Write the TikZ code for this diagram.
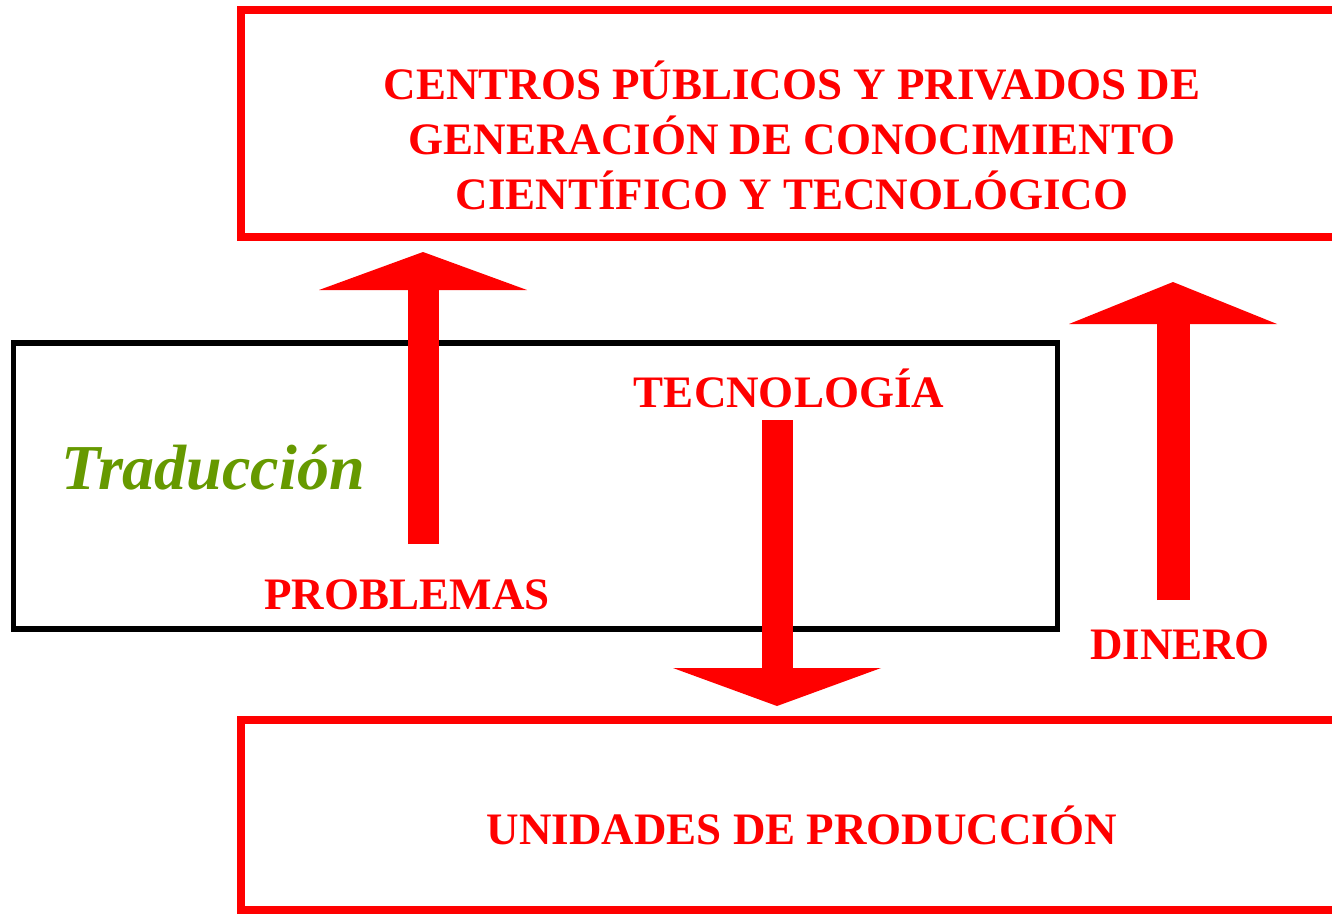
\documentclass[tikz,border=0pt]{standalone}
\usepackage{fontspec}
\setmainfont{Liberation Serif}
\usepackage{tikz}
\usetikzlibrary{arrows.meta}
\definecolor{tradgreen}{RGB}{102,153,0}

\begin{document}
\begin{tikzpicture}[x=1pt,y=-1pt,
  redbox/.style={draw=red,line width=8pt,inner sep=0pt},
  redtext/.style={text=red,font=\bfseries\fontsize{45}{55}\selectfont,align=center,inner sep=0pt},
  flow/.style={red,line width=31pt,-{Triangle[width=208pt,length=38pt,line width=0pt]}}]
  \clip (0,0) rectangle (1332,913);
  \node[redbox,minimum width=1102pt,minimum height=227pt](centros) at (792,123) {};
  \node[redtext](centrostxt) at (792,135) {CENTROS PÚBLICOS Y PRIVADOS DE\\
    GENERACIÓN DE CONOCIMIENTO\\
    CIENTÍFICO Y TECNOLÓGICO};
  \node[redbox,minimum width=1102pt,minimum height=190pt](unidades) at (792,815) {};
  \node[redtext](unidadestxt) at (802,825) {UNIDADES DE PRODUCCIÓN};
  \node[draw=black,line width=5.5pt,inner sep=0pt,minimum width=1044pt,minimum height=286pt](traduccion) at (535.5,486) {};
  \node[text=tradgreen,font=\bfseries\itshape\fontsize{64}{70}\selectfont,inner sep=0pt](traducciontxt) at (213,468) {Traducción};
  \node[redtext](tecnologia) at (789,388) {TECNOLOGÍA};
  \node[redtext](problemas) at (407,595) {PROBLEMAS};
  \node[redtext](dinero) at (1180,645) {DINERO};
  % arrow ends
  \coordinate (p0) at (423,544);
  \coordinate (p1) at (423,252);
  \coordinate (t0) at (777,420);
  \coordinate (t1) at (777,706);
  \coordinate (d0) at (1173,600);
  \coordinate (d1) at (1173,282);
  \draw[flow] (p0)--(p1);
  \draw[flow] (t0)--(t1);
  \draw[flow,line width=33pt,-{Triangle[width=208pt,length=42pt,line width=0pt]}] (d0)--(d1);
\end{tikzpicture}
\end{document}
